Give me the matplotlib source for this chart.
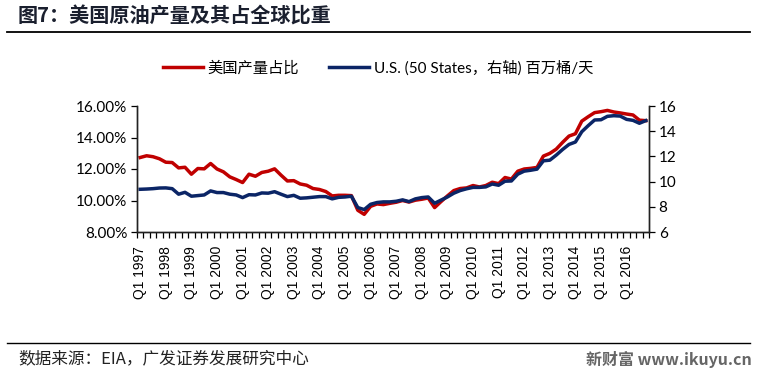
import matplotlib
matplotlib.use("Agg")
import matplotlib.pyplot as plt
from matplotlib.lines import Line2D
from matplotlib.ticker import FixedLocator, FuncFormatter

plt.rcParams['font.family'] = ['Noto Sans CJK SC', 'DejaVu Sans']

# Quarterly data, Q1 1997 .. Q4 2016
years = list(range(1997, 2017))
quarters = [f"Q{q} {y}" for y in years for q in range(1, 5)]
tick_labels = [f"Q1 {y}" for y in years]

# US share of world oil production (%), left axis
share = [12.73, 12.84, 12.78, 12.65, 12.43, 12.41, 12.07, 12.11, 11.67, 12.03,
         12.01, 12.35, 12.00, 11.82, 11.50, 11.33, 11.14, 11.67, 11.54, 11.78,
         11.86, 12.01, 11.61, 11.24, 11.26, 11.05, 10.97, 10.76, 10.70, 10.57,
         10.29, 10.33, 10.33, 10.31, 9.38, 9.12, 9.63, 9.78, 9.74, 9.82,
         9.89, 10.00, 9.90, 10.02, 10.08, 10.16, 9.55, 9.93, 10.29, 10.63,
         10.76, 10.80, 10.95, 10.86, 10.95, 11.16, 11.07, 11.46, 11.36, 11.86,
         12.00, 12.04, 12.10, 12.82, 12.99, 13.26, 13.69, 14.09, 14.24, 15.04,
         15.32, 15.58, 15.64, 15.72, 15.62, 15.56, 15.49, 15.43, 15.10, 15.07]

# U.S. (50 States) production, million barrels/day, right axis
prod = [9.39, 9.41, 9.44, 9.49, 9.50, 9.44, 9.00, 9.15, 8.84, 8.89,
        8.94, 9.26, 9.13, 9.13, 9.00, 8.94, 8.73, 8.96, 8.94, 9.10,
        9.08, 9.20, 9.00, 8.81, 8.91, 8.68, 8.71, 8.76, 8.81, 8.81,
        8.63, 8.75, 8.78, 8.84, 7.94, 7.78, 8.20, 8.34, 8.39, 8.39,
        8.44, 8.55, 8.41, 8.63, 8.73, 8.78, 8.28, 8.53, 8.78, 9.08,
        9.29, 9.43, 9.54, 9.54, 9.58, 9.81, 9.71, 10.03, 10.05, 10.59,
        10.83, 10.90, 10.99, 11.65, 11.70, 12.10, 12.55, 12.95, 13.14, 13.96,
        14.44, 14.89, 14.91, 15.18, 15.23, 15.20, 14.94, 14.86, 14.63, 14.84]

left_ticks = [8, 10, 12, 14, 16]
right_ticks = [6, 8, 10, 12, 14, 16]

RED = '#C00000'
NAVY = '#0B2566'

W, H = 770, 376
fig = plt.figure(figsize=(W / 100, H / 100), dpi=100)

ax = fig.add_axes([137 / W, 1 - 232 / H, (649 - 137) / W, (232 - 106) / H])
ax2 = ax.twinx()

x = list(range(len(quarters)))
ax.plot(x, share, color=RED, lw=2.5, solid_joinstyle='round')
ax2.plot(x, prod, color=NAVY, lw=2.5, solid_joinstyle='round')

ax.set_xlim(-0.5, len(quarters) - 0.5)
ax.set_ylim(8, 16)
ax2.set_ylim(6, 16)

ax.set_yticks(left_ticks)
ax.yaxis.set_major_formatter(FuncFormatter(lambda v, p: f"{v:.2f}%"))
ax2.set_yticks(right_ticks)

ax.set_xticks([quarters.index(t) for t in tick_labels])
ax.set_xticklabels(tick_labels, rotation=90, fontsize=10,
                   family=['Liberation Sans', 'DejaVu Sans'])
ax.xaxis.set_minor_locator(FixedLocator([i - 0.5 for i in range(len(quarters) + 1)]))
ax.tick_params(axis='x', which='major', length=0, pad=10)
ax.tick_params(axis='x', which='minor', length=4, width=0.9, direction='out')

for lab in ax.get_yticklabels():
    lab.set_family(['Lato', 'DejaVu Sans'])
    lab.set_fontsize(11)
for lab in ax2.get_yticklabels():
    lab.set_family(['Lato', 'DejaVu Sans'])
    lab.set_fontsize(11)
ax.tick_params(axis='y', length=4, width=0.9, direction='out', pad=3)
ax2.tick_params(axis='y', length=4, width=0.9, direction='out', pad=3)

for a in (ax, ax2):
    a.spines['top'].set_visible(False)
    for s in ('left', 'right', 'bottom'):
        a.spines[s].set_linewidth(1.0)
        a.spines[s].set_color('#222222')

# Legend
handles = [Line2D([], [], color=RED, lw=2.5),
           Line2D([], [], color=NAVY, lw=2.5)]
labels = ['美国产量占比', 'U.S. (50 States，右轴) 百万桶/天']
fig.legend(handles, labels, loc='center', bbox_to_anchor=(378 / W, 1 - 68 / H),
           ncol=2, frameon=False, handlelength=2.6, handletextpad=0.3,
           columnspacing=2.0, prop={'family': ['Lato', 'Noto Sans CJK SC'], 'size': 11})

# Title and rules
fig.text(18 / W, 1 - 16 / H, '图7：美国原油产量及其占全球比重', fontsize=14.5,
         fontweight='bold', color='#1a1f2e', va='center', ha='left')
fig.add_artist(Line2D([7 / W, 750 / W], [1 - 32 / H, 1 - 32 / H], color='black', lw=1.3))
fig.add_artist(Line2D([7 / W, 750 / W], [1 - 343 / H, 1 - 343 / H], color='black', lw=1.0))

fig.text(18 / W, 1 - 359 / H, '数据来源：EIA，广发证券发展研究中心', fontsize=12,
         color='#222222', va='center', ha='left')
fig.text(752 / W, 1 - 359 / H, '新财富 www.ikuyu.cn', fontsize=11.5, fontweight='bold',
         color='#666666', va='center', ha='right')

fig.savefig('out.png', dpi=100)
